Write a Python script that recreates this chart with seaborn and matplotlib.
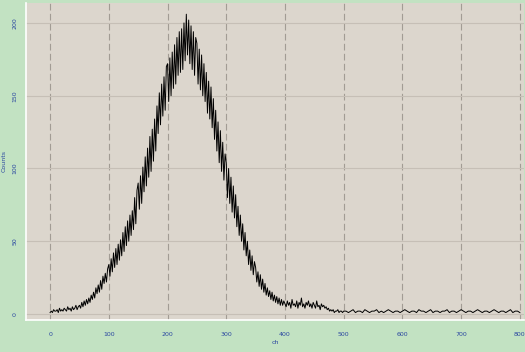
import numpy as np
import pandas as pd
import matplotlib
matplotlib.use("Agg")
import matplotlib.pyplot as plt
import seaborn as sns

# channel axis: every 2 channels up to 498, then every 4 channels in the flat tail
channels = list(range(0, 500, 2)) + list(range(500, 801, 4))
# estimated counts (noisy spectrum)
counts_main = [
    1, 2, 1, 3, 2, 2, 3, 1, 4, 2, 3, 2, 4, 3, 2, 5, 3, 4, 2, 5, 3, 4, 6, 3, 5,            # 0-48
    6, 4, 8, 5, 9, 6, 10, 7, 11, 8, 13, 10, 15, 11, 18, 14, 20, 15, 23, 17, 26, 21, 28, 22, 31,   # 50-98
    34, 26, 38, 29, 42, 32, 45, 34, 48, 37, 51, 40, 56, 43, 60, 47, 64, 50, 68, 54, 71, 58, 80, 62, 85,  # 100-148
    90, 72, 95, 76, 101, 84, 108, 88, 114, 94, 122, 98, 127, 105, 134, 112, 143, 124, 152, 130,
    158, 136, 163, 140, 170,                                                                # 150-198
    172, 146, 176, 150, 180, 155, 185, 158, 190, 164, 194, 166, 196, 168, 200, 174, 206, 178,
    202, 172, 198, 168, 194, 164, 190,                                                      # 200-248
    186, 158, 182, 154, 178, 150, 172, 146, 166, 138, 160, 134, 156, 128, 148, 120, 140, 112,
    132, 104, 126, 98, 118, 92, 110,                                                        # 250-298
    104, 80, 100, 76, 94, 70, 88, 66, 82, 60, 74, 54, 68, 50, 62, 44, 56, 40, 50, 34, 44, 30, 40, 27, 36,  # 300-348
    32, 22, 29, 19, 27, 17, 24, 15, 21, 13, 18, 12, 16, 10, 15, 9, 13, 8, 12, 7, 11, 6, 10, 6, 9,         # 350-398
    7, 5, 9, 6, 8, 4, 10, 6, 7, 5, 9, 4, 8, 6, 11, 5, 7, 4, 8, 6, 9, 5, 7, 4, 8,            # 400-448
    6, 4, 9, 5, 6, 3, 7, 5, 6, 4, 5, 3, 4, 2, 3, 2, 3, 1, 2, 2, 3, 1, 2, 2, 1,              # 450-498
]
counts_tail = [
    2, 2, 1, 2, 3, 1, 2, 2, 1, 3, 2, 1, 2, 2, 3, 1, 2, 1, 2, 3, 2,
    1, 2, 2, 1, 2, 3, 2, 1, 2, 2, 1, 3, 2, 2, 1, 2, 3, 1, 2, 2,
    1, 2, 2, 3, 1, 2, 2, 1, 2, 3, 2, 1, 2, 2, 1, 2, 3, 2, 1, 2,
    2, 1, 2, 3, 2, 1, 2, 2, 1, 2, 3, 1, 2, 2, 1,
]
counts = counts_main + counts_tail
n = min(len(channels), len(counts))
df = pd.DataFrame({"ch": channels[:n], "Counts": counts[:n]})

x_ticks = [0, 100, 200, 300, 400, 500, 600, 700, 800]
y_ticks = [0, 50, 100, 150, 200]

fig = plt.figure(figsize=(5.25, 3.52), dpi=100)
fig.patch.set_facecolor("#c2e2c2")
ax = fig.add_axes([26/525, 1-320/352, 498/525, 317/352])
ax.set_facecolor("#dcd6cd")

sns.lineplot(data=df, x="ch", y="Counts", ax=ax, color="black", linewidth=0.7)

ax.set_xlim(-41, 807)
ax.set_ylim(-4.1, 213.7)
ax.set_xticks(x_ticks)
ax.set_yticks(y_ticks)
ax.set_xticklabels([str(v) for v in x_ticks], fontsize=4.5, color="#2a46a0")
ax.set_yticklabels([str(v) for v in y_ticks], fontsize=4.5, color="#2a46a0",
                   rotation=90, va="center")
ax.tick_params(length=0, pad=9)
ax.tick_params(axis="y", pad=6)

for v in x_ticks:
    ax.axvline(v, color="#a29c94", linewidth=0.8, linestyle=(0, (6, 3)), zorder=0)
for v in y_ticks:
    ax.axhline(v, color="#c6bfb6", linewidth=0.8, zorder=0)

ax.set_xlabel("ch", fontsize=4.5, color="#2a46a0", labelpad=2)
ax.set_ylabel("Counts", fontsize=4.5, color="#2a46a0", labelpad=4)

for s in ["top", "right"]:
    ax.spines[s].set_visible(False)
for s in ["left", "bottom"]:
    ax.spines[s].set_color("white")
    ax.spines[s].set_linewidth(1.2)

fig.savefig("out.png", dpi=100, facecolor=fig.get_facecolor())
